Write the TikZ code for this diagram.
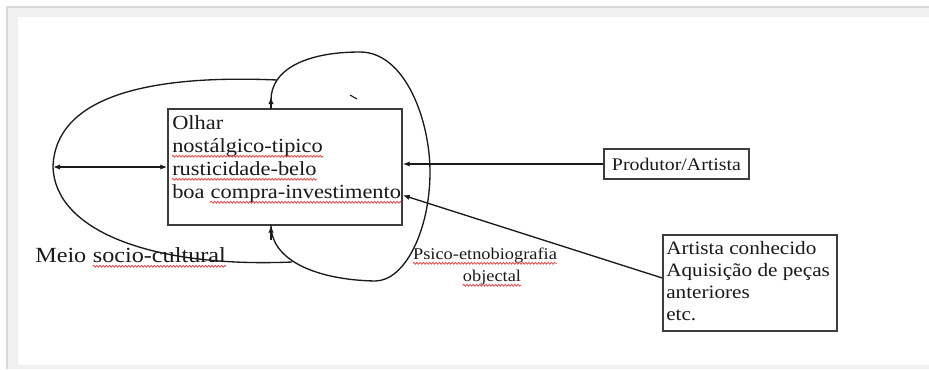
\documentclass[tikz,border=0pt]{standalone}
\usepackage{fontspec}
\setmainfont{Liberation Serif}[FakeStretch=1.12]
\usetikzlibrary{arrows.meta,decorations.pathmorphing,calc}
\definecolor{ink}{HTML}{1A1A1A}
\definecolor{frameline}{HTML}{D9D9D9}
\definecolor{frameband}{HTML}{F1F1F1}
\definecolor{squig}{HTML}{E04848}
\begin{document}
\begin{tikzpicture}[x=0.75pt,y=-0.75pt,
  curve/.style={draw=ink, line width=1pt},
  arr/.style={draw=ink, line width=1pt, -{Latex[length=5.25pt,width=4pt]}},
  dbl/.style={draw=ink, line width=1pt, {Latex[length=5.25pt,width=4pt]}-{Latex[length=5.25pt,width=4pt]}},
  boxstyle/.style={draw=ink!85, line width=1.1pt, inner sep=0pt, rectangle},
  txt/.style={inner sep=0pt, text=ink},
  boxfont/.style={font=\fontsize{15pt}{17pt}\selectfont},
  meiofont/.style={font=\fontsize{16.2pt}{19pt}\selectfont},
  prodfont/.style={font=\fontsize{13.3pt}{15pt}\selectfont},
  artfont/.style={font=\fontsize{14.2pt}{16pt}\selectfont},
  psifont/.style={font=\fontsize{12.3pt}{14pt}\selectfont},
  wavy/.style={draw=squig, line width=0.6pt, decorate, decoration={snake, amplitude=0.7pt, segment length=2.4pt}}]
\useasboundingbox (0,0) rectangle (929,369);
% page frame
\fill[white] (0,0) rectangle (929,369);
\fill[frameband] (8,8) rectangle (929,17);
\fill[frameband] (8,8) rectangle (18,369);
\fill[frameband] (8,365) rectangle (929,369);
\fill[frameline] (6,6) rectangle (929,8);
\fill[frameline] (6,6) rectangle (8,369);

% main box
\node[boxstyle, minimum width=175.5pt, minimum height=87pt] (box) at (285,167) {};
\node[txt, boxfont, anchor=base west] (l1) at (172,129) {Olhar};
\node[txt, boxfont, anchor=base west] (l2) at (172,152) {nostálgico-tipico};
\node[txt, boxfont, anchor=base west] (l3) at (172,175) {rusticidade-belo};
\node[txt, boxfont, anchor=base west] (l4) at (172,198) {boa};
\node[txt, boxfont, anchor=base west] (l4b) at ($(l4.base east)+(5.6,0)$) {compra-investimento};

% Produtor box
\node[boxstyle, prodfont, text=ink, minimum width=108.75pt, minimum height=22.5pt] (prod) at (676.5,164) {Produtor/Artista};

% Artista box
\node[boxstyle, minimum width=130.5pt, minimum height=72pt] (art) at (750,283) {};
\node[txt, artfont, anchor=base west] (a1) at (666,254) {Artista conhecido};
\node[txt, artfont, anchor=base west] (a2) at (666,276) {Aquisição de peças};
\node[txt, artfont, anchor=base west] (a3) at (666,298) {anteriores};
\node[txt, artfont, anchor=base west] (a4) at (666,320) {etc.};

% labels
\node[txt, meiofont, anchor=base west] (m1) at (35,262) {Meio};
\node[txt, meiofont, anchor=base west] (m2) at ($(m1.base east)+(6,0)$) {socio-cultural};
\node[txt, psifont, anchor=base] (p1) at (485,259) {Psico-etnobiografia};
\node[txt, psifont, anchor=base] (p2) at (492,281) {objectal};

% loops
\coordinate (L) at (53,167);
\draw[curve] (271,225) .. controls (271,262) and (320,280) .. (375,281)
  .. controls (405,281) and (430,230) .. (430,172)
  .. controls (430,120) and (405,52) .. (360,52)
  .. controls (305,52) and (271,70) .. (271,100) -- (271,109);
\draw[curve] (277,80) .. controls (140,74) and (55,100) .. (L)
  .. controls (55,230) and (150,268) .. (292,262);
\draw[arr] (271,109) -- (271,97);
\draw[arr] (271,240) -- (271,225.5);
\draw[ink, line width=0.8pt] (350,95) -- (357,99);

% connectors
\draw[dbl] (L) -- (box.west);
\draw[arr] (prod.west) -- (prod.west -| box.east);
\draw[arr] ([yshift=3.75pt]art.west) -- ($(box.south east)!0.26!(box.north east)$);

% spell-check underlines
\foreach \n in {l2,l3,l4b,m2,p1,p2}
  \draw[wavy] ([yshift=-3.2pt]\n.base west) -- ([yshift=-3.2pt]\n.base east);
\end{tikzpicture}
\end{document}
